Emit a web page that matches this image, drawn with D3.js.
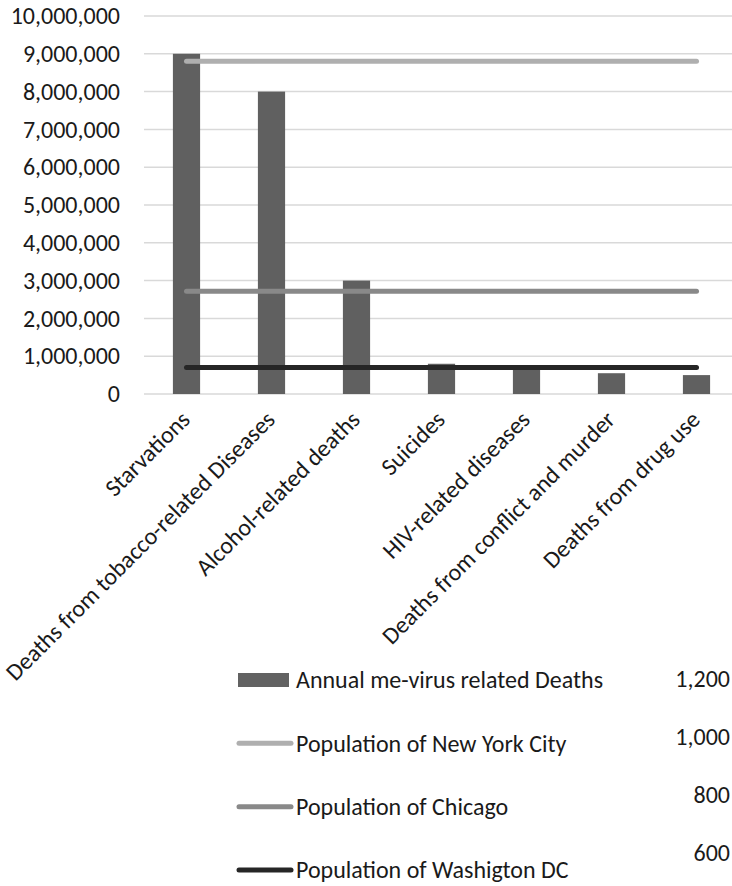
<!DOCTYPE html>
<html><head><meta charset="utf-8">
<script src="https://cdn.jsdelivr.net/npm/d3@7"></script>
<style>
body{margin:0;background:#fff;}
svg text{font-family:Carlito,Calibri,"Open Sans",sans-serif;fill:#1a1a1a;}
</style></head>
<body><svg id="c" width="732" height="886"></svg>
<script>
const categories = ["Starvations","Deaths from tobacco-related Diseases","Alcohol-related deaths","Suicides","HIV-related diseases","Deaths from conflict and murder","Deaths from drug use"];
const deaths = [9000000, 8000000, 3000000, 800000, 700000, 550000, 500000];
const nycPop = [8800000, 8800000, 8800000, 8800000, 8800000, 8800000, 8800000];
const chicagoPop = [2720000, 2720000, 2720000, 2720000, 2720000, 2720000, 2720000];
const dcPop = [700000, 700000, 700000, 700000, 700000, 700000, 700000];
const yTicks = [0,1000000,2000000,3000000,4000000,5000000,6000000,7000000,8000000,9000000,10000000];
const y2Ticks = [600, 800, 1000, 1200];
const seriesNames = ["Annual me-virus related Deaths","Population of New York City","Population of Chicago","Population of Washigton DC"];

const svg = d3.select("#c");
const fs = 24;
const x = d3.scaleBand().domain(categories).range([144, 739]).paddingInner(0.68).paddingOuter(0.34);
const y = d3.scaleLinear().domain([0, 10000000]).range([394, 16]);
const fmt = d3.format(",");

// gridlines
svg.append("g").selectAll("line").data(yTicks).join("line")
  .attr("x1", 144).attr("x2", 740)
  .attr("y1", d => y(d)).attr("y2", d => y(d))
  .attr("stroke", "#d9d9d9").attr("stroke-width", 1.5);

// y axis labels
const yAxis = d3.axisLeft(y).tickValues(yTicks).tickFormat(fmt).tickSize(0).tickPadding(0);
const ya = svg.append("g").attr("transform", "translate(120,0)").call(yAxis);
ya.select(".domain").remove();
ya.attr("font-family", null).attr("font-size", null);
ya.selectAll("text").attr("font-size", fs).attr("fill", "#1a1a1a");

// bars
svg.append("g").selectAll("rect").data(deaths).join("rect")
  .attr("x", (d,i) => x(categories[i]))
  .attr("width", x.bandwidth())
  .attr("y", d => y(d))
  .attr("height", d => y(0) - y(d))
  .attr("fill", "#606060");

// lines
const lineGen = d3.line().x((d,i) => x(categories[i]) + x.bandwidth()/2).y(d => y(d));
const lineSeries = [[nycPop, "#afafaf"], [chicagoPop, "#898989"], [dcPop, "#262626"]];
lineSeries.forEach(([data, color]) => {
  svg.append("path").datum(data).attr("d", lineGen)
    .attr("fill", "none").attr("stroke", color).attr("stroke-width", 5)
    .attr("stroke-linecap", "round");
});

// x labels
svg.append("g").selectAll("text").data(categories).join("text")
  .attr("transform", d => `translate(${x(d) + x.bandwidth()/2 + 5},${421}) rotate(-45)`)
  .attr("text-anchor", "end")
  .attr("font-size", fs)
  .text(d => d);

// legend
const legendY = d3.scalePoint().domain(seriesNames).range([680, 870]);
const lg = svg.append("g");
const swColors = ["#626262", "#afafaf", "#898989", "#262626"];
seriesNames.forEach((name, i) => {
  const cy = legendY(name);
  if (i === 0) {
    lg.append("rect").attr("x", 238).attr("y", cy - 7).attr("width", 51).attr("height", 14).attr("fill", swColors[0]);
  } else {
    lg.append("line").attr("x1", 239).attr("x2", 291).attr("y1", cy).attr("y2", cy)
      .attr("stroke", swColors[i]).attr("stroke-width", 5).attr("stroke-linecap", "round");
  }
  lg.append("text").attr("x", 296).attr("y", cy).attr("dy", "0.35em").attr("font-size", fs).text(name);
});

// secondary axis labels (cut off)
const y2 = d3.scaleLinear().domain([600, 1200]).range([853, 679]);
const y2Axis = d3.axisLeft(y2).tickValues(y2Ticks).tickFormat(fmt).tickSize(0).tickPadding(0);
const y2a = svg.append("g").attr("transform", "translate(730,0)").call(y2Axis);
y2a.select(".domain").remove();
y2a.attr("font-family", null).attr("font-size", null);
y2a.selectAll("text").attr("font-size", fs).attr("fill", "#1a1a1a");
</script></body></html>
